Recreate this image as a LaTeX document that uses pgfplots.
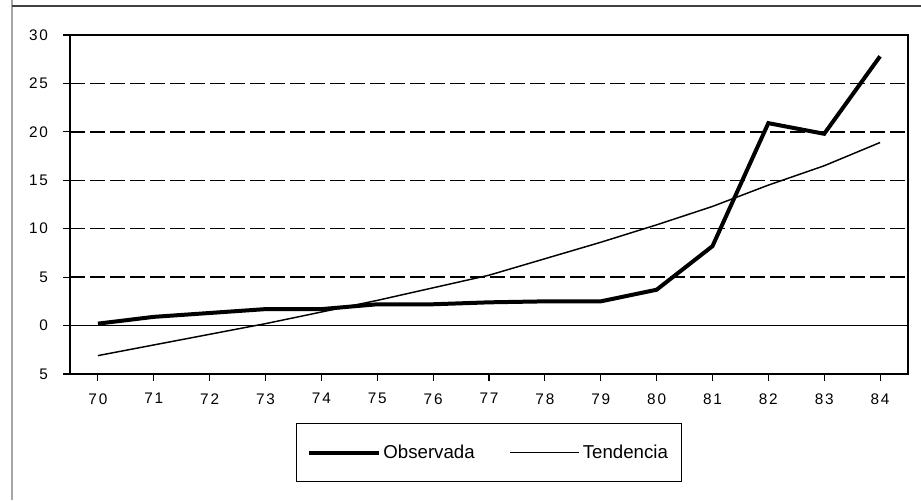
\documentclass[border=0pt]{standalone}
\usepackage{pgfplots}
\pgfplotsset{compat=1.18}
\usepackage{fontspec}
\setmainfont{Liberation Sans}
\newfontfamily\tickfont[LetterSpace=12]{Liberation Sans}
\begin{document}
\begin{tikzpicture}
\path[use as bounding box] (0pt,0pt) rectangle (690.75pt,-375pt);
\draw[gray!70, line width=1pt] (9pt,0pt) -- (9pt,-375pt);
\draw[black!75, line width=0.8pt] (9pt,-4.5pt) -- (690.75pt,-4.5pt);
\begin{axis}[
  at={(52.5pt,-280.5pt)}, anchor=south west,
  scale only axis, width=628.5pt, height=254.25pt,
  xmin=69.5, xmax=84.5, ymin=-5, ymax=30,
  xtick={70,...,84},
  ytick={-5,0,5,10,15,20,25,30},
  yticklabels={5,0,5,10,15,20,25,30},
  /pgf/number format/assume math mode=true,
  tick label style={font=\tickfont\fontsize{11.5}{13}\selectfont},
  tick align=outside,
  xtick pos=bottom, ytick pos=left,
  major tick length=5pt,
  tick style={black, line width=0.8pt},
  ymajorgrids,
  grid style={dashed, black, line width=1pt, dash pattern=on 11pt off 4pt},
  axis line style={black, line width=1pt},
  yticklabel style={xshift=-8pt},
  xticklabel style={yshift=-6pt},
  legend columns=2,
  legend style={at={(0.5,-0.1445)}, anchor=north, draw=black, line width=0.8pt,
    font=\fontsize{14}{16}\selectfont, inner xsep=8pt, inner ysep=14pt,
    /tikz/every even column/.append style={column sep=24pt}},
  legend image code/.code={\draw[#1] (0pt,0pt) -- (52pt,0pt);},
]
\draw[black, line width=1pt] (axis cs:69.5,0) -- (axis cs:84.5,0);
\draw[black, line width=1.5pt] (axis cs:69.5,-5) -- (axis cs:69.5,30);
\addplot[black, line width=3pt, line join=miter] coordinates {
(70,0.2) (71,0.9) (72,1.3) (73,1.7) (74,1.7) (75,2.2) (76,2.2) (77,2.4)
(78,2.5) (79,2.5) (80,3.7) (81,8.2) (82,20.9) (83,19.8) (84,27.8)};
\addlegendentry{Observada}
\addplot[black, line width=1.1pt] coordinates {
(70,-3.1) (71,-2.0) (72,-0.9) (73,0.2) (74,1.4) (75,2.6) (76,3.9) (77,5.2)
(78,6.9) (79,8.6) (80,10.4) (81,12.3) (82,14.5) (83,16.5) (84,18.9)};
\addlegendentry{Tendencia}
\end{axis}
\end{tikzpicture}
\end{document}
